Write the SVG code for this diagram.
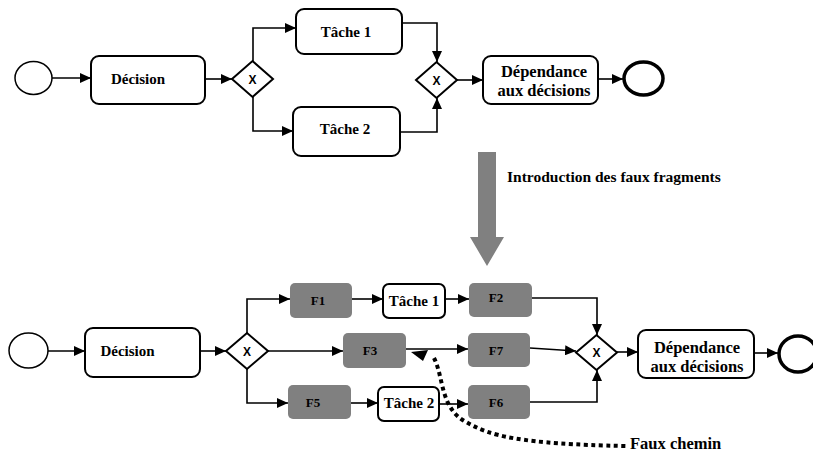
<svg xmlns="http://www.w3.org/2000/svg" width="813" height="454" viewBox="0 0 813 454">
<defs>
<style>
.box{fill:#fff;stroke:#000;stroke-width:2}
.frag{fill:#808080;stroke:none}
.ev{fill:#fff;stroke:#000;stroke-width:1.5}
.end{fill:#fff;stroke:#000;stroke-width:3.5}
.gw{fill:#fff;stroke:#000;stroke-width:2}
.t{font-family:"Liberation Serif","Times New Roman",serif;font-weight:bold;fill:#000}
.gx{font-family:"Liberation Sans",Arial,sans-serif;font-weight:bold;font-size:12px;fill:#000;text-anchor:middle}
.c line,.c path{fill:none;stroke:#000;stroke-width:1.6}
</style>
<marker id="ah" markerUnits="userSpaceOnUse" markerWidth="12" markerHeight="10" refX="11" refY="5" orient="auto">
<path d="M0,0 L11,5 L0,10 Z" fill="#000"/>
</marker>
</defs>
<rect width="813" height="454" fill="#fff"/>

<g class="c" id="connectors">
<line x1="52" y1="78" x2="91" y2="78" marker-end="url(#ah)"/>
<line x1="205" y1="79" x2="232" y2="79" marker-end="url(#ah)"/>
<path d="M253,61 V28 H296" marker-end="url(#ah)"/>
<path d="M253,97 V131 H293" marker-end="url(#ah)"/>
<path d="M402,23 H437 V62" marker-end="url(#ah)"/>
<path d="M400,132 H437 V98" marker-end="url(#ah)"/>
<line x1="457" y1="80" x2="483" y2="80" marker-end="url(#ah)"/>
<line x1="598" y1="79" x2="623" y2="79" marker-end="url(#ah)"/>

<line x1="48" y1="351" x2="85" y2="351" marker-end="url(#ah)"/>
<line x1="200" y1="351" x2="226" y2="351" marker-end="url(#ah)"/>
<path d="M247,333 V299 H290" marker-end="url(#ah)"/>
<path d="M247,369 V403 H288" marker-end="url(#ah)"/>
<line x1="352" y1="299" x2="383" y2="299" marker-end="url(#ah)"/>
<line x1="445" y1="299" x2="469" y2="299" marker-end="url(#ah)"/>
<path d="M532,298 H597 V335" marker-end="url(#ah)"/>
<line x1="268" y1="351" x2="343" y2="351" marker-end="url(#ah)"/>
<line x1="406" y1="349" x2="468" y2="349" marker-end="url(#ah)"/>
<line x1="530" y1="348" x2="576" y2="351" marker-end="url(#ah)"/>
<line x1="351" y1="403" x2="378" y2="403" marker-end="url(#ah)"/>
<line x1="439" y1="404" x2="468" y2="404" marker-end="url(#ah)"/>
<path d="M530,402 H597 V370" marker-end="url(#ah)"/>
<line x1="617" y1="352" x2="638" y2="352" marker-end="url(#ah)"/>
<line x1="754" y1="353" x2="778" y2="353" marker-end="url(#ah)"/>
</g>

<g id="faux-chemin">
<path d="M434,358 C444,378 440,408 466,422 C490,436 520,444 626,446" fill="none" stroke="#000" stroke-width="4" stroke-dasharray="4 3.5"/>
<polygon points="411,352 428,350 423,361" fill="#000"/>
<text class="t" x="630" y="449" font-size="16.5">Faux chemin</text>
</g>

<g id="transform">
<polygon points="478,152 496,152 496,237 504,237 487,266 470,237 478,237" fill="#808080"/>
<text class="t" x="507" y="182" font-size="15.5">Introduction des faux fragments</text>
</g>

<!-- Top process -->
<g id="start1"><ellipse class="ev" cx="33.5" cy="78" rx="18.5" ry="16.5"/></g>
<g id="decision1"><rect class="box" x="91" y="56" width="114" height="48" rx="8"/><text class="t" x="138" y="84" font-size="15" text-anchor="middle">Décision</text></g>
<g id="gw1"><polygon class="gw" points="232,79 252.5,61 273,79 252.5,97"/><text class="gx" x="252.5" y="83.5">X</text></g>
<g id="tache1"><rect class="box" x="296" y="9" width="106" height="45" rx="8"/><text class="t" x="346" y="37" font-size="15" text-anchor="middle">Tâche 1</text></g>
<g id="tache2"><rect class="box" x="293" y="107" width="107" height="49" rx="8"/><text class="t" x="345" y="134" font-size="15" text-anchor="middle">Tâche 2</text></g>
<g id="gw2"><polygon class="gw" points="416,80 436.5,62 457,80 436.5,98"/><text class="gx" x="436.5" y="84.5">X</text></g>
<g id="dep1"><rect class="box" x="483" y="56" width="115" height="48" rx="8"/><text class="t" x="544" y="77" font-size="16.5" text-anchor="middle">Dépendance</text><text class="t" x="544" y="96" font-size="16.5" text-anchor="middle">aux décisions</text></g>
<g id="end1"><ellipse class="end" cx="643.5" cy="78.5" rx="19.5" ry="16.5"/></g>

<!-- Bottom process -->
<g id="start2"><ellipse class="ev" cx="28.5" cy="350.5" rx="19.5" ry="17.5"/></g>
<g id="decision2"><rect class="box" x="85" y="328" width="115" height="49" rx="8"/><text class="t" x="127.5" y="356" font-size="15" text-anchor="middle">Décision</text></g>
<g id="gw3"><polygon class="gw" points="226,351 247,333 268,351 247,369"/><text class="gx" x="247" y="355.5">X</text></g>
<g id="f1"><rect class="frag" x="290" y="283" width="62" height="35" rx="5"/><text class="t" x="318" y="305" font-size="13" text-anchor="middle">F1</text></g>
<g id="tache1b"><rect class="box" x="383" y="284" width="62" height="34" rx="6"/><text class="t" x="414" y="306" font-size="15" text-anchor="middle">Tâche 1</text></g>
<g id="f2"><rect class="frag" x="469" y="283" width="63" height="34" rx="5"/><text class="t" x="496" y="302" font-size="13" text-anchor="middle">F2</text></g>
<g id="f3"><rect class="frag" x="343" y="333" width="63" height="35" rx="5"/><text class="t" x="370" y="355" font-size="13" text-anchor="middle">F3</text></g>
<g id="f7"><rect class="frag" x="468" y="333" width="62" height="34" rx="5"/><text class="t" x="496" y="355" font-size="13" text-anchor="middle">F7</text></g>
<g id="f5"><rect class="frag" x="288" y="385" width="63" height="34" rx="5"/><text class="t" x="313" y="407" font-size="13" text-anchor="middle">F5</text></g>
<g id="tache2b"><rect class="box" x="378" y="387" width="61" height="34" rx="6"/><text class="t" x="409" y="408" font-size="15" text-anchor="middle">Tâche 2</text></g>
<g id="f6"><rect class="frag" x="468" y="385" width="62" height="34" rx="5"/><text class="t" x="496" y="407" font-size="13" text-anchor="middle">F6</text></g>
<g id="gw4"><polygon class="gw" points="576,352.5 596.5,335 617,352.5 596.5,370"/><text class="gx" x="596.5" y="357">X</text></g>
<g id="dep2"><rect class="box" x="638" y="330" width="116" height="48" rx="8"/><text class="t" x="697" y="353" font-size="16.5" text-anchor="middle">Dépendance</text><text class="t" x="697" y="372" font-size="16.5" text-anchor="middle">aux décisions</text></g>
<g id="end2"><ellipse class="end" cx="798" cy="354" rx="19" ry="18"/></g>
</svg>
